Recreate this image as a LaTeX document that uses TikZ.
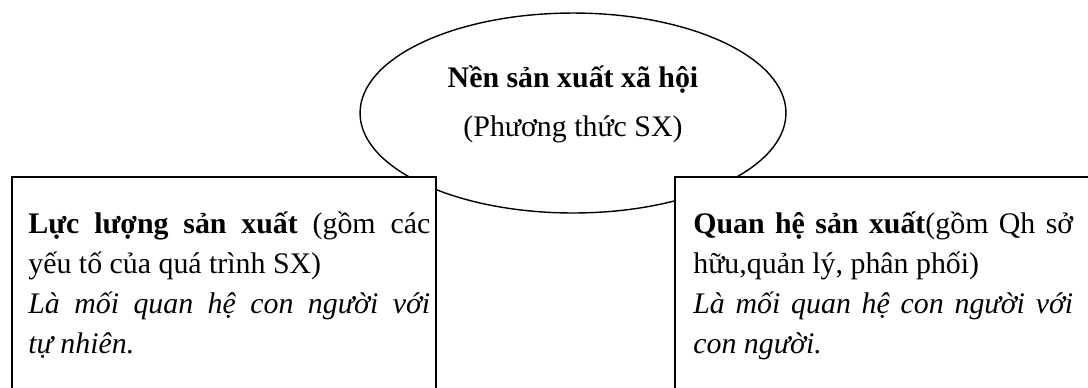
\documentclass[tikz,border=0pt]{standalone}
\usepackage{fontspec}
\setmainfont{Liberation Serif}
\usepackage{tikz}
\usetikzlibrary{positioning}
\usetikzlibrary{shapes}
\tikzstyle{mode}=[ellipse,draw,line width=0.8pt,minimum width=8.52cm,minimum height=4cm,inner sep=0pt]
\tikzstyle{box}=[rectangle,draw,fill=white,line width=1pt,anchor=north west,minimum width=8.48cm,minimum height=5cm,inner sep=0pt]
\tikzstyle{boxtext}=[anchor=base west,align=justify,inner sep=0pt]
\tikzstyle{title} = [anchor=base,inner sep=0pt]

\begin{document}
\begin{tikzpicture}[x=0.02cm,y=-0.02cm,font=\fontsize{17}{22.8}\selectfont]

    \path[use as bounding box,clip] (0,0) rectangle (1088,387);

    \node[mode] (mode) at (573,113) {};
    \node[title] (name) at (573,87) {\textbf{Nền sản xuất xã hội}};
    \node[title] (sub) at (573,136) {(Phương thức SX)};

    \foreach \pos/\name in {{(11,176)/LLSX}, {(674,176)/QHSX}}
        \node[box] (\name) at \pos {};

    \node[boxtext,text width=8.04cm] (LLSXtext) at (28,233)
        {\textbf{Lực lượng sản xuất} (gồm các\linebreak yếu tố của quá trình SX)\par
         \textit{Là mối quan hệ con người với\linebreak tự nhiên.}};

    \node[boxtext,text width=7.6cm] (QHSXtext) at (693,233)
        {\textbf{Quan hệ sản xuất}(gồm Qh sở\linebreak hữu,quản lý, phân phối)\par
         \textit{Là mối quan hệ con người với\linebreak con người.}};

\end{tikzpicture}
\end{document}
